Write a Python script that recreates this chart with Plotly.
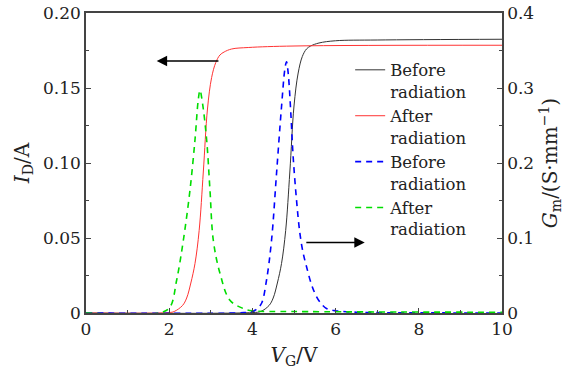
import plotly.graph_objects as go

# I_D curves (left axis)
vg_id_before = [0, 4.0, 4.2, 4.4, 4.5, 4.6, 4.7, 4.8, 4.9, 5.0, 5.1, 5.2, 5.3, 5.4, 5.6, 6.0, 7.0, 10.0]
id_before = [0.0, 0.0003, 0.001, 0.005, 0.010, 0.020, 0.033, 0.055, 0.094, 0.138, 0.160, 0.171, 0.176, 0.178, 0.180, 0.1815, 0.182, 0.1825]
vg_id_after = [0, 2.0, 2.12, 2.32, 2.42, 2.52, 2.62, 2.72, 2.82, 2.92, 3.02, 3.12, 3.22, 3.32, 3.5, 3.9, 5.0, 10.0]
id_after = [0.0, 0.0003, 0.001, 0.005, 0.010, 0.020, 0.033, 0.055, 0.094, 0.136, 0.157, 0.167, 0.172, 0.174, 0.176, 0.177, 0.178, 0.1785]

# Gm curves (right axis)
vg_gm_before = [0, 3.8, 4.0, 4.1, 4.22, 4.34, 4.46, 4.58, 4.70, 4.78, 4.82, 4.86, 4.92, 4.98, 5.06, 5.14, 5.22, 5.30, 5.42, 5.54, 5.66, 5.78, 6.0, 6.5, 7.0, 10.0]
gm_before = [0.0, 0.0005, 0.002, 0.005, 0.013, 0.044, 0.097, 0.186, 0.275, 0.325, 0.335, 0.32, 0.27, 0.208, 0.151, 0.107, 0.08, 0.062, 0.038, 0.022, 0.012, 0.006, 0.003, 0.001, 0.0005, 0.0]
vg_gm_after = [0, 1.8, 2.02, 2.18, 2.34, 2.50, 2.62, 2.70, 2.74, 2.80, 2.90, 2.98, 3.06, 3.22, 3.46, 3.78, 4.0, 5.0, 10.0]
gm_after = [0.0, 0.0005, 0.008, 0.044, 0.097, 0.164, 0.231, 0.285, 0.297, 0.28, 0.231, 0.164, 0.097, 0.053, 0.017, 0.006, 0.003, 0.002, 0.001]

legend_names = ["Before<br>radiation", "After<br>radiation", "Before<br>radiation", "After<br>radiation"]

FONT = "DejaVu Serif"
AX = "#444444"

fig = go.Figure()
fig.add_trace(go.Scatter(x=vg_id_before, y=id_before, mode="lines", name=legend_names[0],
                         line=dict(color="#333333", width=1, shape="spline")))
fig.add_trace(go.Scatter(x=vg_id_after, y=id_after, mode="lines", name=legend_names[1],
                         line=dict(color="#ff3333", width=1, shape="spline")))
fig.add_trace(go.Scatter(x=vg_gm_before, y=gm_before, mode="lines", name=legend_names[2], yaxis="y2",
                         line=dict(color="#0000ff", width=1.6, dash="6px,5px", shape="spline")))
fig.add_trace(go.Scatter(x=vg_gm_after, y=gm_after, mode="lines", name=legend_names[3], yaxis="y2",
                         line=dict(color="#00dd00", width=1.6, dash="6px,5px", shape="spline")))

# arrows
fig.add_annotation(x=1.70, y=0.168, ax=3.22, ay=0.168, xref="x", yref="y", axref="x", ayref="y",
                   text="", showarrow=True, arrowhead=2, arrowsize=1.6, arrowwidth=1.3, arrowcolor="black")
fig.add_annotation(x=6.70, y=0.047, ax=5.26, ay=0.047, xref="x", yref="y", axref="x", ayref="y",
                   text="", showarrow=True, arrowhead=2, arrowsize=1.6, arrowwidth=1.3, arrowcolor="black")

fig.update_layout(
    width=571, height=372,
    margin=dict(l=86, r=69, t=13, b=59, autoexpand=False),
    paper_bgcolor="white", plot_bgcolor="white",
    font=dict(family=FONT, size=17, color="#222222"),
    showlegend=True,
    legend=dict(x=0.635, y=0.868, xanchor="left", yanchor="top", bgcolor="rgba(0,0,0,0)",
                font=dict(family=FONT, size=16.5), valign="top", tracegroupgap=0, itemwidth=30),
    xaxis=dict(range=[0, 10], tickvals=[0, 2, 4, 6, 8, 10], ticks="inside", ticklen=5,
               tickcolor=AX, showline=True, linecolor=AX, linewidth=1.5, mirror=True,
               showgrid=False, zeroline=False, automargin=False,
               minor=dict(tickvals=[1, 3, 5, 7, 9], ticks="inside", ticklen=3, tickcolor=AX),
               title=dict(text="<i>V</i><sub>G</sub>/V", standoff=10)),
    yaxis=dict(range=[0, 0.2], tickvals=[0, 0.05, 0.10, 0.15, 0.20],
               ticktext=["0", "0.05", "0.10", "0.15", "0.20"], ticks="inside", ticklen=5,
               tickcolor=AX, showline=True, linecolor=AX, linewidth=1.5,
               showgrid=False, zeroline=False, automargin=False,
               minor=dict(tickvals=[0.025, 0.075, 0.125, 0.175], ticks="inside", ticklen=3, tickcolor=AX),
               title=dict(text="<i>I</i><sub>D</sub>/A", standoff=8)),
    yaxis2=dict(range=[0, 0.4], overlaying="y", side="right", tickvals=[0, 0.1, 0.2, 0.3, 0.4],
                ticktext=["0", "0.1", "0.2", "0.3", "0.4"], ticks="inside", ticklen=5,
                tickcolor=AX, showline=True, linecolor=AX, linewidth=1.5,
                showgrid=False, zeroline=False, automargin=False,
                minor=dict(tickvals=[0.05, 0.15, 0.25, 0.35], ticks="inside", ticklen=3, tickcolor=AX),
                title=dict(text="<i>G</i><sub>m</sub>/(S·mm<sup>−1</sup>)", standoff=10)),
)

fig.write_html("out.html")
